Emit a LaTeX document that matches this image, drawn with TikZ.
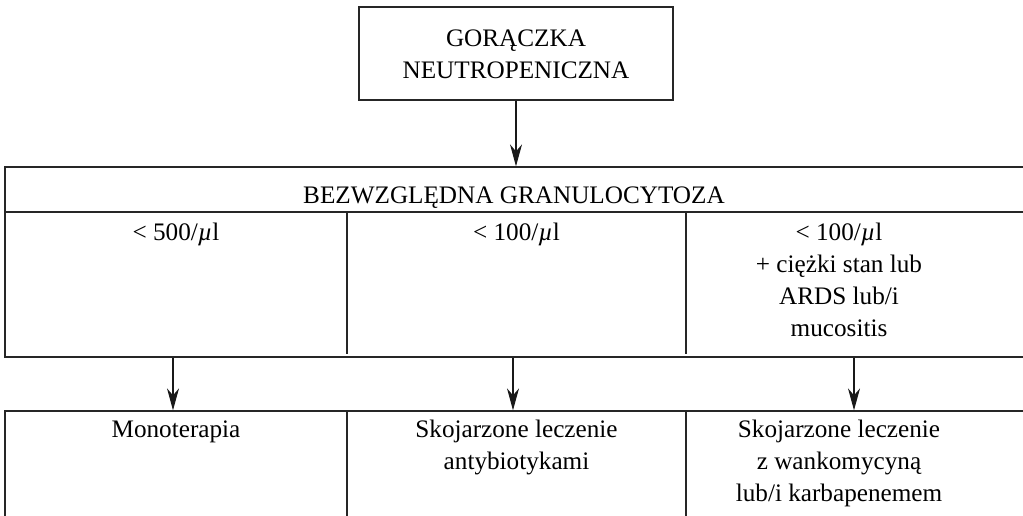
\documentclass[tikz,border=0pt]{standalone}
\usepackage{fontspec}
\setmainfont{Liberation Serif}
\usetikzlibrary{arrows.meta}
\tikzset{
  frame/.style={draw=black!85, line width=1.3pt, rectangle, inner sep=0pt},
  % multi-line texts are placed by the baseline of their last line
  txt/.style={font=\fontsize{25.2}{32}\selectfont, align=center, anchor=base, inner sep=0pt},
  rule/.style={draw=black!85, line width=1.3pt},
  link/.style={draw=black!90, line width=1.3pt, -{Stealth[length=22pt,width=12pt,inset=7pt]}}
}
\newcommand{\perul}{/{\itshape µ}l}
\begin{document}
\begin{tikzpicture}[x=1pt,y=-1pt]
\useasboundingbox (0,0) rectangle (1023,515);

% starting box
\node[frame, minimum width=314pt, minimum height=93pt] (fever) at (516,53.5) {};
\node[txt] (feverT) at (516,78) {GORĄCZKA\\NEUTROPENICZNA};

% granulocyte count table (runs past the right edge)
\node[frame, minimum width=1030pt, minimum height=190pt] (gran) at (520,262) {};
\coordinate (gl) at (5,212);
\coordinate (gr) at (1030,212);
\draw[rule] (gl) -- (gr);
\draw[rule] (347,212) -- (347,354);
\draw[rule] (686,212) -- (686,354);

\node[txt] (granT) at (514,203) {BEZWZGLĘDNA GRANULOCYTOZA};
\node[txt] (c1) at (176,240) {< 500\perul};
\node[txt] (c2) at (516.5,240) {< 100\perul};
\node[txt] (c3) at (839,336) {< 100\perul\\+ ciężki stan lub\\ARDS lub/i\\mucositis};

% treatment table (runs past the right and bottom edges)
\node[frame, minimum width=1030pt, minimum height=114pt] (ther) at (520,468) {};
\draw[rule] (347,411) -- (347,520);
\draw[rule] (686,411) -- (686,520);

\node[txt] (t1) at (176,437) {Monoterapia};
\node[txt] (t2) at (516.5,469) {Skojarzone leczenie\\antybiotykami};
\node[txt] (t3) at (839,501) {Skojarzone leczenie\\z wankomycyną\\lub/i karbapenemem};

% connectors
\coordinate (a1) at (173,0);
\coordinate (a2) at (513,0);
\coordinate (a3) at (854,0);
\draw[link] (fever.south) -- (fever.south |- gran.north);
\draw[link] (gran.south -| a1) -- (ther.north -| a1);
\draw[link] (gran.south -| a2) -- (ther.north -| a2);
\draw[link] (gran.south -| a3) -- (ther.north -| a3);
\end{tikzpicture}
\end{document}
